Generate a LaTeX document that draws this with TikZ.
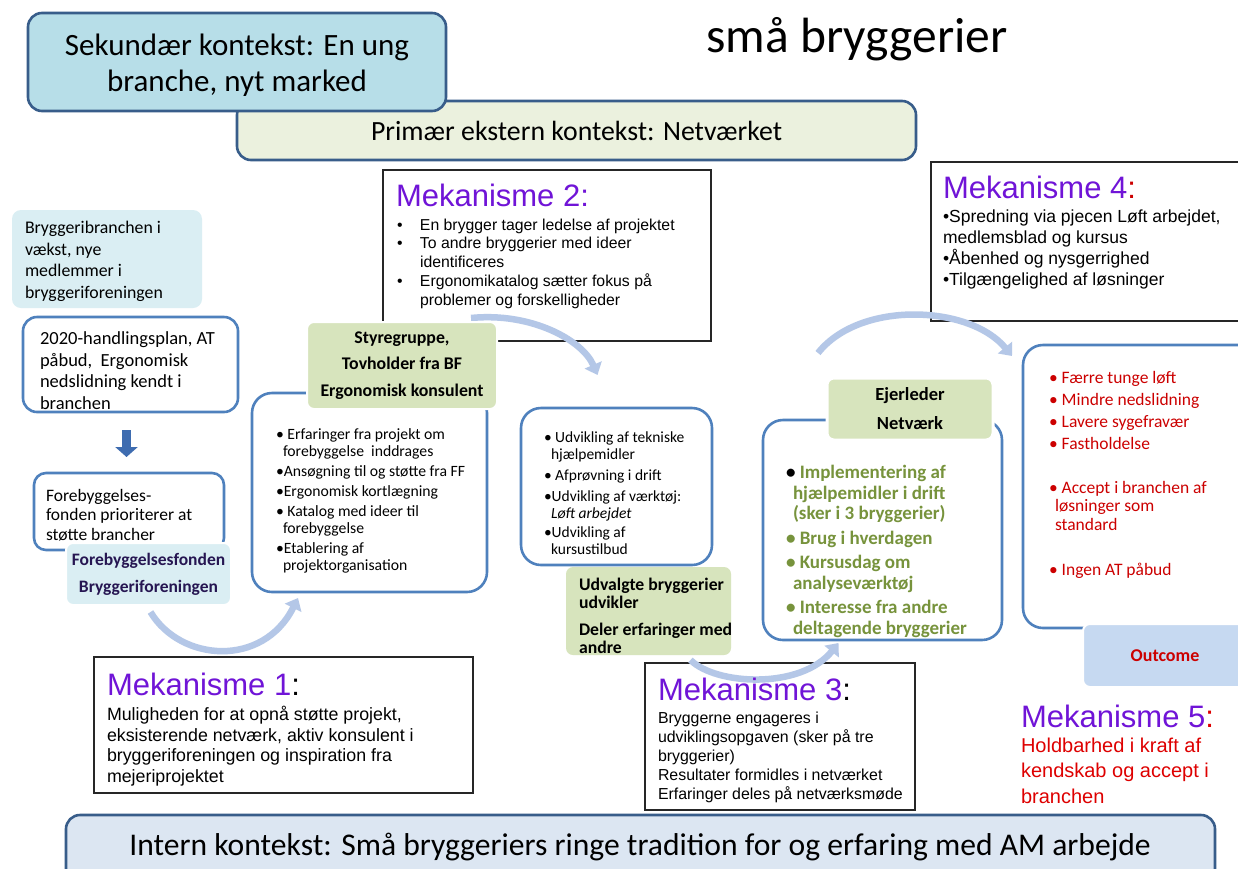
\documentclass[tikz,border=0pt]{standalone}
\usepackage{fontspec}
\setmainfont{Carlito}
\newfontfamily\arialf{Liberation Sans}
\usetikzlibrary{arrows.meta,calc}
\definecolor{ctxline}{RGB}{56,93,138}
\definecolor{boxline}{RGB}{79,129,189}
\definecolor{sekfill}{RGB}{183,222,232}
\definecolor{primfill}{RGB}{235,241,222}
\definecolor{lightaqua}{RGB}{218,238,243}
\definecolor{lblgreen}{RGB}{215,228,189}
\definecolor{outfill}{RGB}{198,217,241}
\definecolor{intfill}{RGB}{220,230,242}
\definecolor{mechpurple}{RGB}{112,20,215}
\definecolor{outred}{RGB}{204,0,0}
\definecolor{brightred}{RGB}{222,0,0}
\definecolor{txtgreen}{RGB}{119,147,60}
\definecolor{lblnavy}{RGB}{38,22,82}
\definecolor{flowblue}{RGB}{180,199,231}
\definecolor{blockblue}{RGB}{62,108,176}
\newcommand\fsz[2]{\fontsize{#1}{#2}\selectfont}
\begin{document}
\begin{tikzpicture}[x=1pt,y=-1pt,
  every node/.style={inner sep=0pt, outer sep=0pt},
  ctxbox/.style={draw=ctxline, line width=2.6pt, rounded corners=14pt, anchor=north west},
  roundbox/.style={draw=boxline, line width=2.6pt, rounded corners=20pt, fill=white, anchor=north west},
  mechbox/.style={draw=black!85, line width=1.4pt, fill=white, anchor=north west},
  lbl/.style={rounded corners=7pt, draw=white, line width=2pt, anchor=north west},
  txt/.style={anchor=north west, align=left},
  flow/.style={draw=flowblue, line width=6.5pt, -{Triangle[width=18pt,length=11pt]}},
  blockarrow/.style={draw=blockblue, line width=9pt, -{Triangle[width=22pt,length=10pt]}},
  mhead/.style={anchor=north west, font=\arialf\fsz{31}{36}},
]
\useasboundingbox (0,0) rectangle (1238,868);
\clip (0,0) rectangle (1238,868);
\fill[white] (0,0) rectangle (1238,868);

% context boxes
\node[ctxbox, fill=primfill, minimum width=679pt, minimum height=59pt, font=\fsz{27.8}{32}] (prim) at (237,101) {Primær ekstern kontekst: Netværket};
\node[ctxbox, fill=sekfill, minimum width=418pt, minimum height=98pt] (sek) at (28,13) {};
\node[align=center, font=\fsz{31}{36}] (sekt) at (237,65) {Sekundær kontekst: En ung\\branche, nyt marked};
\node[font=\fsz{49.5}{58}] (title) at (857,39) {små bryggerier};

% left column
\node[lbl, draw=none, fill=lightaqua, rounded corners=9pt, minimum width=190pt, minimum height=98pt] (bryg) at (12,210) {};
\node[txt, font=\fsz{17.8}{21.7}] (brygt) at (25,221) {Bryggeribranchen i\\vækst, nye\\medlemmer i\\bryggeriforeningen};
\node[roundbox, rounded corners=14pt, minimum width=215pt, minimum height=95pt] (b2020) at (23,317) {};
\node[txt, font=\fsz{18.5}{21.7}] (b2020t) at (40,331.5) {2020-handlingsplan, AT\\påbud,\ \ Ergonomisk\\nedslidning kendt i\\branchen};
\draw[blockarrow] ($(b2020.south)+(-4,18)$) -- ($(b2020.south)+(-4,45)$);
\node[roundbox, rounded corners=12pt, minimum width=190pt, minimum height=77pt] (fbox) at (34,473) {};
\node[txt, font=\fsz{17.5}{19.5}] (fboxt) at (46,489) {Forebyggelses-\\fonden prioriterer at\\støtte brancher};
\node[lbl, fill=lightaqua, minimum width=165pt, minimum height=62pt, align=center, font=\bfseries\fsz{17.5}{27}, text=lblnavy] (lblFF) at (66,543) {Forebyggelsesfonden\\Bryggeriforeningen};

% Styregruppe
\node[roundbox, minimum width=235pt, minimum height=199pt] (styre) at (252,393) {};
\node[txt, font=\fsz{15.7}{17}] (styret) at (276,429) {• Erfaringer fra projekt om\\\hspace*{7pt}forebyggelse\ \ inddrages\\[3pt]•Ansøgning til og støtte fra FF\\[3pt]•Ergonomisk kortlægning\\[3pt]• Katalog med ideer til\\\hspace*{7pt}forebyggelse\\[3pt]•Etablering af\\\hspace*{7pt}projektorganisation};

% Mekanisme 2
\node[mechbox, minimum width=328pt, minimum height=171pt] (mek2) at (383,170) {};
\node[mhead, text=mechpurple] (mek2h) at (396,184) {Mekanisme 2:};
\node[txt, font=\arialf\fsz{15.8}{18.8}] (mek2t) at (397,218.6) {\makebox[23pt][l]{•}En brygger tager ledelse af projektet\\\makebox[23pt][l]{•}To andre bryggerier med ideer\\\hspace*{23pt}identificeres\\\makebox[23pt][l]{•}Ergonomikatalog sætter fokus på\\\hspace*{23pt}problemer og forskelligheder};

% middle box
\node[roundbox, minimum width=191pt, minimum height=157pt] (mid) at (521,408) {};
\draw[flow] ($(mek2.south)+(-76,-23)$) .. controls +(60,-6) and +(-15,-35) .. ($(mid.north)+(-19,-33)$);
\node[lbl, fill=lblgreen, minimum width=190pt, minimum height=87pt, align=center, font=\bfseries\fsz{17.8}{26.5}] (lblSt) at (307,322) {Styregruppe,\\Tovholder fra BF\\Ergonomisk konsulent};
\node[txt, font=\fsz{15.5}{17}] (midt) at (544,432) {• Udvikling af tekniske\\\hspace*{7pt}hjælpemidler\\[3.8pt]• Afprøvning i drift\\[3.8pt]•Udvikling af værktøj:\\\hspace*{7pt}\textit{Løft arbejdet}\\[2.5pt]•Udvikling af\\\hspace*{7pt}kursustilbud};
\node[lbl, draw=none, fill=lblgreen, minimum width=165pt, minimum height=88pt] (udv) at (566,567) {};
\node[txt, font=\bfseries\fsz{17.7}{18}] (udvt) at (579,578) {Udvalgte bryggerier\\udvikler\\[9pt]Deler erfaringer med\\andre};

% Ejerleder
\node[roundbox, minimum width=239pt, minimum height=220pt] (ejer) at (763,420) {};
\node[lbl, fill=lblgreen, line width=3pt, minimum width=166pt, minimum height=62pt, align=center, font=\bfseries\fsz{18.5}{29}] (lblEj) at (827,378) {Ejerleder\\Netværk};
\node[txt, font=\bfseries\fsz{19}{20.7}, text=txtgreen] (ejert) at (786,465) {{\color{black}•} Implementering af\\\hspace*{7pt}hjælpemidler i drift\\\hspace*{7pt}(sker i 3 bryggerier)\\[4pt]• Brug i hverdagen\\[3.5pt]• Kursusdag om\\\hspace*{7pt}analyseværktøj\\[3.5pt]• Interesse fra andre\\\hspace*{7pt}deltagende bryggerier};

% Mekanisme 4
\node[mechbox, minimum width=330pt, minimum height=159pt] (mek4) at (931,162) {};
\node[mhead] (mek4h) at (943,176.5) {\textcolor{mechpurple}{Mekanisme 4}\textcolor{outred}{:}};
\node[txt, font=\arialf\fsz{17.5}{21}] (mek4t) at (943,210) {•Spredning via pjecen Løft arbejdet,\\medlemsblad og kursus\\•Åbenhed og nysgerrighed\\•Tilgængelighed af løsninger};

% outcome
\node[roundbox, minimum width=240pt, minimum height=283pt] (outbox) at (1023,345) {};
\draw[flow] ($(lblEj.north west)+(-9,-25)$) .. controls +(42,-53) and +(-42,-51) .. ($(outbox.north west)+(-11,11)$);
\node[txt, font=\fsz{17.5}{22}, text=outred] (outt1) at (1049,371) {• Færre tunge løft\\• Mindre nedslidning\\• Lavere sygefravær\\• Fastholdelse};
\node[txt, font=\fsz{17.5}{18.5}, text=outred] (outt2) at (1049,481) {• Accept i branchen af\\\hspace*{6pt}løsninger som\\\hspace*{6pt}standard};
\node[txt, font=\fsz{17.5}{18.5}, text=outred] (outt3) at (1049,563) {• Ingen AT påbud};
\node[lbl, fill=outfill, minimum width=180pt, minimum height=63pt, font=\bfseries\fsz{18}{22}, text=outred] (outlbl) at (1083,624) {\hspace*{-16pt}Outcome};

% Mekanisme 1 and 3
\node[mechbox, minimum width=270pt, minimum height=147pt] (mek3) at (645,663) {};
\draw[flow] ($(lblFF.south)+(2,7)$) .. controls +(30,50) and +(-35,70) .. ($(styre.south west)+(46,6)$);
\draw[flow] ($(udv.south)+(42,5)$) .. controls +(25,25) and +(-38,47) .. ($(ejer.south)+(-44,3)$);
\node[mechbox, minimum width=379pt, minimum height=136pt] (mek1) at (94,657) {};
\node[mhead] (mek1h) at (107,673.5) {\textcolor{mechpurple}{Mekanisme 1}:};
\node[txt, font=\arialf\fsz{17.8}{20.7}] (mek1t) at (107,706) {Muligheden for at opnå støtte projekt,\\eksisterende netværk, aktiv konsulent i\\bryggeriforeningen og inspiration fra\\mejeriprojektet};
\node[mhead] (mek3h) at (658,678.5) {\textcolor{mechpurple}{Mekanisme 3}:};
\node[txt, font=\arialf\fsz{15.9}{19}] (mek3t) at (658,711.5) {Bryggerne engageres i\\udviklingsopgaven (sker på tre\\bryggerier)\\Resultater formidles i netværket\\Erfaringer deles på netværksmøde};

% Mekanisme 5
\node[mhead] (mek5h) at (1021,705.5) {\textcolor{mechpurple}{Mekanisme 5}\textcolor{brightred}{:}};
\node[txt, font=\arialf\fsz{20}{25.5}, text=brightred] (mek5t) at (1021,737.6) {Holdbarhed i kraft af\\kendskab og accept i\\branchen};

% internal context
\node[ctxbox, fill=intfill, minimum width=1149pt, minimum height=80pt] (intern) at (66,815) {};
\node[font=\fsz{31.6}{36}] (internt) at (640,847) {Intern kontekst: Små bryggeriers ringe tradition for og erfaring med AM arbejde};
\end{tikzpicture}
\end{document}
